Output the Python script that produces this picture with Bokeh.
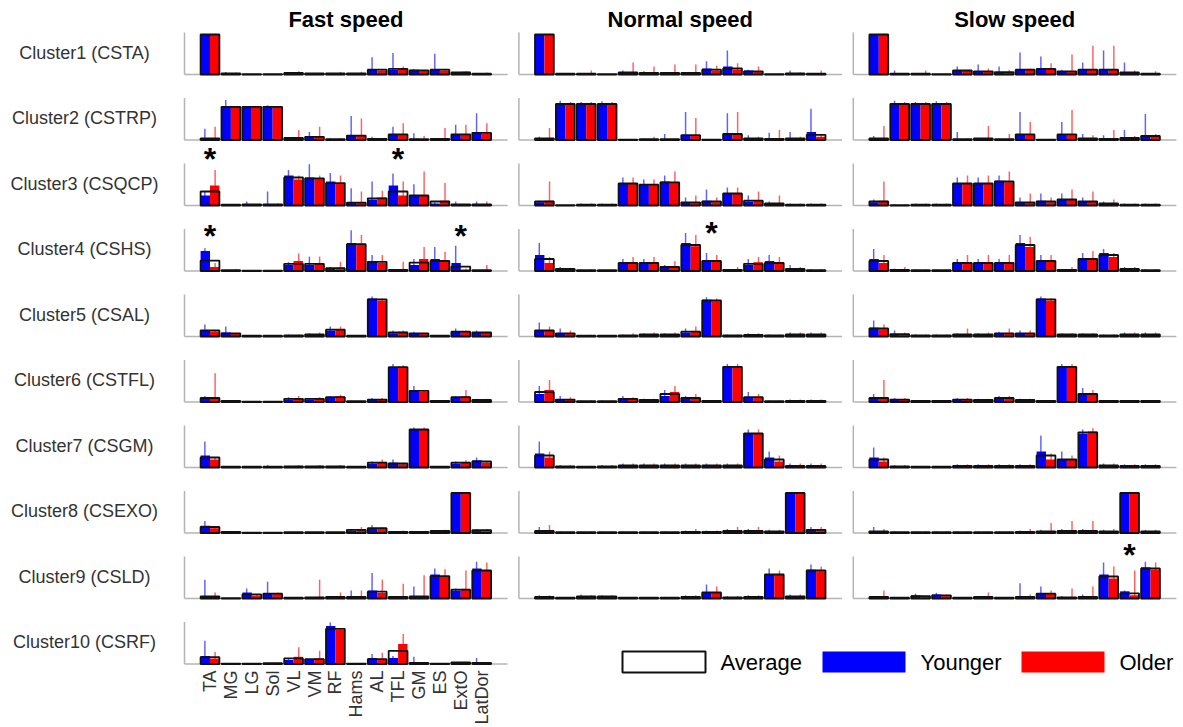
import numpy as np
from bokeh.plotting import figure
from bokeh.models import ColumnDataSource, Range1d, Label
from bokeh.embed import file_html
from bokeh.resources import INLINE
from bokeh.core.properties import value

muscles = ["TA", "MG", "LG", "Sol", "VL", "VM", "RF", "Hams", "AL", "TFL", "GM", "ES", "ExtO", "LatDor"]
speeds = ["Fast speed", "Normal speed", "Slow speed"]
clusters = ["Cluster1 (CSTA)", "Cluster2 (CSTRP)", "Cluster3 (CSQCP)", "Cluster4 (CSHS)",
            "Cluster5 (CSAL)", "Cluster6 (CSTFL)", "Cluster7 (CSGM)", "Cluster8 (CSEXO)",
            "Cluster9 (CSLD)", "Cluster10 (CSRF)"]

# ---------------- FAST ----------------
fast_avg = [
    [1.00, 0.03, 0.01, 0.01, 0.04, 0.03, 0.03, 0.03, 0.12, 0.14, 0.10, 0.12, 0.05, 0.02],
    [0.04, 0.83, 0.83, 0.83, 0.05, 0.08, 0.02, 0.11, 0.03, 0.14, 0.02, 0.03, 0.14, 0.18],
    [0.35, 0.02, 0.03, 0.03, 0.70, 0.68, 0.56, 0.07, 0.18, 0.35, 0.25, 0.10, 0.03, 0.03],
    [0.26, 0.02, 0.01, 0.01, 0.18, 0.18, 0.07, 0.67, 0.23, 0.03, 0.21, 0.25, 0.11, 0.02],
    [0.15, 0.08, 0.02, 0.02, 0.03, 0.05, 0.17, 0.02, 0.93, 0.10, 0.08, 0.02, 0.12, 0.10],
    [0.10, 0.03, 0.01, 0.01, 0.08, 0.08, 0.12, 0.02, 0.06, 0.87, 0.28, 0.03, 0.12, 0.05],
    [0.25, 0.02, 0.02, 0.02, 0.03, 0.03, 0.03, 0.02, 0.12, 0.10, 0.95, 0.02, 0.12, 0.15],
    [0.15, 0.03, 0.01, 0.01, 0.02, 0.02, 0.02, 0.08, 0.12, 0.03, 0.03, 0.05, 1.00, 0.07],
    [0.05, 0.01, 0.10, 0.12, 0.02, 0.03, 0.04, 0.04, 0.17, 0.04, 0.05, 0.56, 0.22, 0.70],
    [0.17, 0.01, 0.01, 0.02, 0.14, 0.12, 0.88, 0.01, 0.12, 0.33, 0.03, 0.01, 0.04, 0.03],
]
fast_young = [
    [1.00, 0.04, 0.01, 0.01, 0.04, 0.03, 0.02, 0.02, 0.12, 0.12, 0.12, 0.12, 0.05, 0.01],
    [0.04, 0.83, 0.83, 0.83, 0.04, 0.08, 0.02, 0.12, 0.04, 0.14, 0.03, 0.02, 0.14, 0.20],
    [0.25, 0.02, 0.04, 0.04, 0.75, 0.70, 0.60, 0.06, 0.15, 0.50, 0.25, 0.05, 0.04, 0.03],
    [0.50, 0.02, 0.01, 0.01, 0.15, 0.15, 0.05, 0.70, 0.25, 0.02, 0.15, 0.30, 0.20, 0.01],
    [0.15, 0.10, 0.02, 0.02, 0.03, 0.04, 0.15, 0.02, 0.95, 0.08, 0.08, 0.02, 0.12, 0.10],
    [0.08, 0.03, 0.01, 0.01, 0.06, 0.06, 0.10, 0.02, 0.05, 0.85, 0.30, 0.03, 0.10, 0.05],
    [0.30, 0.02, 0.02, 0.02, 0.02, 0.02, 0.02, 0.02, 0.10, 0.12, 0.95, 0.02, 0.10, 0.18],
    [0.18, 0.03, 0.01, 0.01, 0.02, 0.02, 0.02, 0.06, 0.12, 0.02, 0.03, 0.04, 1.00, 0.06],
    [0.05, 0.01, 0.15, 0.12, 0.02, 0.02, 0.03, 0.04, 0.20, 0.03, 0.05, 0.60, 0.20, 0.75],
    [0.20, 0.01, 0.01, 0.02, 0.10, 0.10, 0.95, 0.01, 0.15, 0.15, 0.04, 0.01, 0.04, 0.04],
]
fast_old = [
    [1.00, 0.03, 0.01, 0.01, 0.05, 0.03, 0.03, 0.04, 0.10, 0.14, 0.08, 0.10, 0.07, 0.03],
    [0.04, 0.83, 0.83, 0.83, 0.06, 0.08, 0.02, 0.10, 0.02, 0.14, 0.02, 0.04, 0.14, 0.16],
    [0.50, 0.02, 0.02, 0.02, 0.65, 0.68, 0.55, 0.08, 0.20, 0.25, 0.25, 0.12, 0.02, 0.03],
    [0.10, 0.02, 0.01, 0.01, 0.25, 0.20, 0.08, 0.65, 0.20, 0.04, 0.30, 0.25, 0.04, 0.02],
    [0.12, 0.06, 0.02, 0.02, 0.03, 0.06, 0.18, 0.02, 0.90, 0.12, 0.08, 0.02, 0.12, 0.10],
    [0.12, 0.03, 0.01, 0.01, 0.10, 0.10, 0.14, 0.02, 0.07, 0.88, 0.25, 0.03, 0.14, 0.05],
    [0.20, 0.02, 0.02, 0.02, 0.04, 0.04, 0.04, 0.02, 0.14, 0.08, 0.95, 0.02, 0.14, 0.12],
    [0.12, 0.03, 0.01, 0.01, 0.02, 0.02, 0.02, 0.10, 0.12, 0.04, 0.03, 0.06, 1.00, 0.08],
    [0.05, 0.01, 0.06, 0.12, 0.02, 0.04, 0.05, 0.04, 0.14, 0.05, 0.05, 0.55, 0.24, 0.70],
    [0.14, 0.01, 0.01, 0.02, 0.18, 0.14, 0.85, 0.01, 0.10, 0.50, 0.02, 0.01, 0.04, 0.02],
]
fast_ymax = [
    [1.00, 0.06, 0.01, 0.01, 0.05, 0.04, 0.03, 0.03, 0.43, 0.54, 0.14, 0.52, 0.06, 0.02],
    [0.28, 1.00, 0.85, 0.87, 0.06, 0.20, 0.05, 0.60, 0.08, 0.33, 0.17, 0.05, 0.38, 0.67],
    [0.35, 0.03, 0.10, 0.35, 0.89, 1.03, 0.81, 0.43, 0.60, 0.80, 0.53, 0.08, 0.10, 0.10],
    [0.57, 0.03, 0.01, 0.01, 0.22, 0.36, 0.10, 1.02, 0.40, 0.04, 0.30, 0.60, 0.63, 0.02],
    [0.30, 0.25, 0.03, 0.03, 0.05, 0.08, 0.25, 0.03, 1.00, 0.15, 0.12, 0.03, 0.20, 0.15],
    [0.15, 0.05, 0.02, 0.02, 0.12, 0.10, 0.15, 0.03, 0.10, 0.95, 0.40, 0.04, 0.15, 0.08],
    [0.65, 0.04, 0.03, 0.06, 0.04, 0.04, 0.04, 0.03, 0.15, 0.20, 1.00, 0.03, 0.15, 0.25],
    [0.30, 0.05, 0.02, 0.02, 0.03, 0.03, 0.03, 0.10, 0.20, 0.04, 0.05, 0.06, 1.02, 0.10],
    [0.47, 0.01, 0.25, 0.42, 0.02, 0.03, 0.05, 0.20, 0.64, 0.05, 0.30, 0.75, 0.25, 0.92],
    [0.58, 0.02, 0.02, 0.03, 0.15, 0.12, 1.04, 0.02, 0.25, 0.20, 0.18, 0.02, 0.05, 0.15],
]
fast_omax = [
    [1.02, 0.05, 0.01, 0.02, 0.08, 0.04, 0.06, 0.07, 0.12, 0.20, 0.10, 0.12, 0.08, 0.05],
    [0.33, 0.85, 0.84, 0.84, 0.25, 0.33, 0.05, 0.54, 0.04, 0.42, 0.10, 0.30, 0.38, 0.42],
    [0.89, 0.03, 0.03, 0.05, 0.75, 0.75, 0.75, 0.35, 0.37, 0.60, 0.85, 0.56, 0.04, 0.10],
    [0.20, 0.05, 0.02, 0.02, 0.44, 0.36, 0.23, 0.90, 0.40, 0.23, 0.60, 0.48, 0.06, 0.15],
    [0.15, 0.08, 0.03, 0.03, 0.05, 0.10, 0.25, 0.03, 0.95, 0.15, 0.10, 0.03, 0.15, 0.12],
    [0.72, 0.05, 0.02, 0.02, 0.15, 0.12, 0.18, 0.03, 0.10, 0.92, 0.30, 0.04, 0.30, 0.08],
    [0.25, 0.03, 0.03, 0.03, 0.06, 0.06, 0.06, 0.03, 0.20, 0.12, 1.00, 0.03, 0.18, 0.15],
    [0.15, 0.05, 0.02, 0.02, 0.03, 0.03, 0.03, 0.15, 0.15, 0.06, 0.05, 0.08, 1.00, 0.10],
    [0.15, 0.02, 0.10, 0.15, 0.03, 0.47, 0.15, 0.20, 0.47, 0.37, 0.58, 0.73, 0.70, 0.90],
    [0.30, 0.02, 0.02, 0.03, 0.42, 0.33, 0.88, 0.02, 0.28, 0.75, 0.04, 0.02, 0.05, 0.04],
]

# ---------------- NORMAL ----------------
normal_avg = [
    [1.00, 0.02, 0.02, 0.01, 0.05, 0.04, 0.04, 0.04, 0.12, 0.15, 0.08, 0.01, 0.03, 0.02],
    [0.04, 0.90, 0.90, 0.90, 0.01, 0.02, 0.02, 0.12, 0.01, 0.15, 0.04, 0.03, 0.04, 0.13],
    [0.10, 0.01, 0.02, 0.02, 0.55, 0.52, 0.58, 0.08, 0.10, 0.30, 0.12, 0.05, 0.02, 0.02],
    [0.30, 0.05, 0.02, 0.02, 0.20, 0.20, 0.10, 0.65, 0.25, 0.03, 0.18, 0.20, 0.05, 0.02],
    [0.15, 0.08, 0.02, 0.02, 0.03, 0.05, 0.05, 0.12, 0.90, 0.03, 0.04, 0.03, 0.05, 0.05],
    [0.25, 0.06, 0.02, 0.02, 0.08, 0.05, 0.20, 0.10, 0.03, 0.88, 0.12, 0.02, 0.03, 0.03],
    [0.30, 0.03, 0.02, 0.03, 0.05, 0.05, 0.05, 0.05, 0.05, 0.05, 0.85, 0.20, 0.04, 0.04],
    [0.05, 0.02, 0.02, 0.02, 0.02, 0.02, 0.02, 0.03, 0.03, 0.05, 0.05, 0.04, 1.00, 0.08],
    [0.04, 0.02, 0.05, 0.05, 0.02, 0.02, 0.02, 0.04, 0.15, 0.03, 0.04, 0.60, 0.05, 0.70],
]
normal_young = [
    [1.00, 0.03, 0.01, 0.01, 0.06, 0.04, 0.03, 0.03, 0.15, 0.20, 0.10, 0.01, 0.04, 0.01],
    [0.04, 0.90, 0.90, 0.90, 0.01, 0.02, 0.02, 0.12, 0.01, 0.15, 0.04, 0.03, 0.04, 0.20],
    [0.08, 0.01, 0.02, 0.02, 0.55, 0.52, 0.60, 0.08, 0.12, 0.30, 0.10, 0.04, 0.02, 0.02],
    [0.40, 0.05, 0.02, 0.02, 0.18, 0.18, 0.08, 0.70, 0.25, 0.02, 0.15, 0.25, 0.05, 0.02],
    [0.15, 0.08, 0.02, 0.02, 0.03, 0.05, 0.05, 0.10, 0.92, 0.03, 0.04, 0.03, 0.05, 0.05],
    [0.20, 0.06, 0.02, 0.02, 0.08, 0.05, 0.15, 0.10, 0.03, 0.88, 0.12, 0.02, 0.03, 0.03],
    [0.35, 0.03, 0.02, 0.03, 0.05, 0.05, 0.05, 0.05, 0.05, 0.05, 0.85, 0.25, 0.04, 0.04],
    [0.05, 0.02, 0.02, 0.02, 0.02, 0.02, 0.02, 0.03, 0.03, 0.05, 0.05, 0.04, 1.00, 0.08],
    [0.04, 0.02, 0.06, 0.05, 0.02, 0.02, 0.02, 0.04, 0.15, 0.03, 0.04, 0.60, 0.05, 0.72],
]
normal_old = [
    [1.00, 0.02, 0.03, 0.01, 0.05, 0.05, 0.05, 0.05, 0.10, 0.12, 0.07, 0.01, 0.03, 0.03],
    [0.04, 0.90, 0.90, 0.90, 0.01, 0.02, 0.02, 0.12, 0.01, 0.15, 0.04, 0.03, 0.04, 0.08],
    [0.12, 0.01, 0.02, 0.02, 0.55, 0.52, 0.56, 0.08, 0.08, 0.30, 0.14, 0.06, 0.02, 0.02],
    [0.20, 0.05, 0.02, 0.02, 0.22, 0.22, 0.12, 0.62, 0.25, 0.04, 0.22, 0.18, 0.05, 0.02],
    [0.15, 0.08, 0.02, 0.02, 0.03, 0.05, 0.05, 0.14, 0.88, 0.03, 0.04, 0.03, 0.05, 0.05],
    [0.30, 0.06, 0.02, 0.02, 0.08, 0.05, 0.25, 0.10, 0.03, 0.88, 0.12, 0.02, 0.03, 0.03],
    [0.25, 0.03, 0.02, 0.03, 0.05, 0.05, 0.05, 0.05, 0.05, 0.05, 0.85, 0.15, 0.04, 0.04],
    [0.05, 0.02, 0.02, 0.02, 0.02, 0.02, 0.02, 0.03, 0.03, 0.05, 0.05, 0.04, 1.00, 0.08],
    [0.04, 0.02, 0.04, 0.05, 0.02, 0.02, 0.02, 0.04, 0.15, 0.03, 0.04, 0.60, 0.05, 0.68],
]
normal_ymax = [
    [1.00, 0.04, 0.02, 0.01, 0.10, 0.08, 0.05, 0.05, 0.33, 0.60, 0.12, 0.02, 0.10, 0.02],
    [0.08, 0.98, 0.95, 0.97, 0.02, 0.04, 0.15, 0.70, 0.02, 0.67, 0.12, 0.18, 0.20, 0.78],
    [0.12, 0.02, 0.05, 0.05, 0.70, 0.65, 0.75, 0.20, 0.40, 0.45, 0.25, 0.10, 0.05, 0.05],
    [0.70, 0.10, 0.04, 0.03, 0.30, 0.30, 0.15, 0.95, 0.45, 0.05, 0.30, 0.40, 0.15, 0.05],
    [0.35, 0.20, 0.04, 0.04, 0.05, 0.08, 0.08, 0.20, 0.98, 0.05, 0.08, 0.05, 0.10, 0.10],
    [0.40, 0.15, 0.04, 0.04, 0.15, 0.08, 0.30, 0.15, 0.05, 0.95, 0.25, 0.04, 0.06, 0.06],
    [0.65, 0.06, 0.04, 0.06, 0.10, 0.10, 0.10, 0.10, 0.10, 0.10, 0.95, 0.40, 0.10, 0.10],
    [0.15, 0.04, 0.04, 0.04, 0.04, 0.04, 0.04, 0.06, 0.06, 0.10, 0.10, 0.08, 1.02, 0.15],
    [0.08, 0.04, 0.10, 0.08, 0.04, 0.04, 0.04, 0.08, 0.35, 0.06, 0.08, 0.75, 0.10, 0.85],
]
normal_omax = [
    [1.02, 0.03, 0.10, 0.02, 0.30, 0.20, 0.25, 0.25, 0.22, 0.28, 0.20, 0.02, 0.05, 0.10],
    [0.30, 0.95, 0.95, 0.95, 0.02, 0.08, 0.04, 0.55, 0.02, 0.70, 0.08, 0.25, 0.08, 0.15],
    [0.60, 0.02, 0.05, 0.05, 0.70, 0.65, 0.85, 0.25, 0.20, 0.45, 0.35, 0.25, 0.05, 0.05],
    [0.35, 0.08, 0.04, 0.03, 0.35, 0.35, 0.25, 0.90, 0.40, 0.10, 0.35, 0.35, 0.10, 0.05],
    [0.25, 0.15, 0.04, 0.04, 0.08, 0.10, 0.10, 0.25, 0.95, 0.05, 0.08, 0.05, 0.10, 0.10],
    [0.55, 0.12, 0.04, 0.04, 0.12, 0.08, 0.40, 0.20, 0.05, 0.95, 0.20, 0.04, 0.06, 0.06],
    [0.40, 0.06, 0.04, 0.06, 0.10, 0.10, 0.10, 0.10, 0.10, 0.10, 0.95, 0.30, 0.10, 0.10],
    [0.20, 0.04, 0.04, 0.04, 0.04, 0.04, 0.04, 0.10, 0.06, 0.15, 0.15, 0.08, 1.00, 0.15],
    [0.08, 0.04, 0.08, 0.08, 0.04, 0.04, 0.04, 0.08, 0.30, 0.06, 0.08, 0.70, 0.10, 0.80],
]

# ---------------- SLOW ----------------
slow_avg = [
    [1.00, 0.02, 0.02, 0.01, 0.10, 0.08, 0.06, 0.12, 0.14, 0.08, 0.12, 0.12, 0.05, 0.02],
    [0.04, 0.90, 0.90, 0.90, 0.02, 0.04, 0.02, 0.14, 0.01, 0.14, 0.04, 0.03, 0.05, 0.10],
    [0.10, 0.01, 0.02, 0.02, 0.55, 0.55, 0.60, 0.08, 0.10, 0.15, 0.10, 0.05, 0.02, 0.02],
    [0.25, 0.03, 0.02, 0.02, 0.20, 0.20, 0.20, 0.65, 0.25, 0.03, 0.30, 0.40, 0.05, 0.02],
    [0.20, 0.06, 0.03, 0.03, 0.05, 0.05, 0.08, 0.08, 0.93, 0.05, 0.05, 0.03, 0.05, 0.05],
    [0.10, 0.06, 0.03, 0.03, 0.06, 0.05, 0.10, 0.05, 0.03, 0.88, 0.20, 0.03, 0.03, 0.03],
    [0.20, 0.03, 0.02, 0.02, 0.04, 0.04, 0.04, 0.04, 0.30, 0.20, 0.88, 0.05, 0.04, 0.04],
    [0.04, 0.02, 0.02, 0.02, 0.02, 0.02, 0.02, 0.03, 0.04, 0.05, 0.05, 0.04, 1.00, 0.04],
    [0.04, 0.02, 0.06, 0.08, 0.02, 0.04, 0.02, 0.04, 0.12, 0.03, 0.04, 0.55, 0.13, 0.75],
]
slow_young = [
    [1.00, 0.02, 0.02, 0.01, 0.10, 0.08, 0.06, 0.12, 0.14, 0.08, 0.12, 0.12, 0.05, 0.02],
    [0.04, 0.90, 0.90, 0.90, 0.02, 0.04, 0.02, 0.14, 0.01, 0.14, 0.04, 0.03, 0.05, 0.10],
    [0.08, 0.01, 0.02, 0.02, 0.55, 0.55, 0.62, 0.08, 0.12, 0.15, 0.10, 0.05, 0.02, 0.02],
    [0.30, 0.03, 0.02, 0.02, 0.18, 0.18, 0.18, 0.70, 0.25, 0.03, 0.28, 0.45, 0.05, 0.02],
    [0.22, 0.06, 0.03, 0.03, 0.05, 0.05, 0.08, 0.08, 0.95, 0.05, 0.05, 0.03, 0.05, 0.05],
    [0.10, 0.06, 0.03, 0.03, 0.06, 0.05, 0.10, 0.05, 0.03, 0.88, 0.22, 0.03, 0.03, 0.03],
    [0.25, 0.03, 0.02, 0.02, 0.04, 0.04, 0.04, 0.04, 0.40, 0.20, 0.85, 0.05, 0.04, 0.04],
    [0.04, 0.02, 0.02, 0.02, 0.02, 0.02, 0.02, 0.03, 0.04, 0.05, 0.05, 0.04, 1.00, 0.04],
    [0.04, 0.02, 0.08, 0.10, 0.02, 0.03, 0.02, 0.04, 0.12, 0.03, 0.04, 0.60, 0.18, 0.78],
]
slow_old = [
    [1.00, 0.02, 0.02, 0.01, 0.10, 0.08, 0.06, 0.12, 0.14, 0.08, 0.12, 0.12, 0.05, 0.02],
    [0.04, 0.90, 0.90, 0.90, 0.02, 0.04, 0.02, 0.14, 0.01, 0.14, 0.04, 0.03, 0.05, 0.10],
    [0.12, 0.01, 0.02, 0.02, 0.55, 0.55, 0.58, 0.08, 0.08, 0.15, 0.10, 0.05, 0.02, 0.02],
    [0.20, 0.03, 0.02, 0.02, 0.22, 0.22, 0.22, 0.60, 0.25, 0.03, 0.32, 0.35, 0.05, 0.02],
    [0.18, 0.06, 0.03, 0.03, 0.05, 0.05, 0.08, 0.08, 0.90, 0.05, 0.05, 0.03, 0.05, 0.05],
    [0.10, 0.06, 0.03, 0.03, 0.06, 0.05, 0.10, 0.05, 0.03, 0.88, 0.18, 0.03, 0.03, 0.03],
    [0.15, 0.03, 0.02, 0.02, 0.04, 0.04, 0.04, 0.04, 0.20, 0.20, 0.90, 0.05, 0.04, 0.04],
    [0.04, 0.02, 0.02, 0.02, 0.02, 0.02, 0.02, 0.03, 0.04, 0.05, 0.05, 0.04, 1.00, 0.04],
    [0.04, 0.02, 0.04, 0.06, 0.02, 0.05, 0.02, 0.04, 0.12, 0.03, 0.04, 0.50, 0.08, 0.72],
]
slow_ymax = [
    [1.00, 0.10, 0.02, 0.01, 0.20, 0.25, 0.20, 0.55, 0.45, 0.12, 0.30, 0.60, 0.30, 0.03],
    [0.10, 0.98, 0.95, 0.97, 0.20, 0.05, 0.04, 0.70, 0.02, 0.45, 0.15, 0.12, 0.25, 0.65],
    [0.15, 0.03, 0.05, 0.05, 0.70, 0.70, 0.75, 0.20, 0.30, 0.30, 0.20, 0.10, 0.05, 0.05],
    [0.55, 0.06, 0.04, 0.04, 0.30, 0.30, 0.30, 0.90, 0.40, 0.05, 0.45, 0.55, 0.10, 0.05],
    [0.40, 0.15, 0.05, 0.05, 0.08, 0.08, 0.12, 0.15, 1.00, 0.08, 0.08, 0.05, 0.10, 0.10],
    [0.20, 0.10, 0.05, 0.05, 0.10, 0.08, 0.15, 0.08, 0.05, 0.95, 0.35, 0.05, 0.05, 0.05],
    [0.50, 0.06, 0.04, 0.04, 0.08, 0.08, 0.08, 0.08, 0.80, 0.40, 0.95, 0.10, 0.08, 0.08],
    [0.15, 0.04, 0.04, 0.04, 0.04, 0.04, 0.04, 0.06, 0.08, 0.10, 0.10, 0.08, 1.02, 0.08],
    [0.06, 0.03, 0.12, 0.14, 0.03, 0.05, 0.03, 0.38, 0.30, 0.06, 0.10, 0.90, 0.20, 0.92],
]
slow_omax = [
    [1.02, 0.03, 0.10, 0.02, 0.12, 0.15, 0.12, 0.15, 0.28, 0.50, 0.72, 0.72, 0.10, 0.08],
    [0.35, 0.95, 0.95, 0.95, 0.04, 0.35, 0.15, 0.45, 0.02, 0.75, 0.12, 0.25, 0.10, 0.15],
    [0.60, 0.03, 0.05, 0.05, 0.75, 0.75, 0.85, 0.30, 0.20, 0.40, 0.35, 0.15, 0.05, 0.05],
    [0.40, 0.10, 0.04, 0.04, 0.40, 0.40, 0.40, 0.85, 0.40, 0.10, 0.50, 0.45, 0.10, 0.05],
    [0.30, 0.10, 0.05, 0.05, 0.20, 0.10, 0.20, 0.15, 0.95, 0.08, 0.08, 0.05, 0.10, 0.10],
    [0.55, 0.10, 0.05, 0.05, 0.10, 0.08, 0.15, 0.08, 0.05, 0.95, 0.30, 0.05, 0.05, 0.05],
    [0.25, 0.06, 0.04, 0.04, 0.08, 0.08, 0.08, 0.08, 0.35, 0.30, 0.98, 0.10, 0.08, 0.08],
    [0.10, 0.04, 0.04, 0.04, 0.04, 0.04, 0.04, 0.10, 0.25, 0.30, 0.30, 0.10, 1.00, 0.08],
    [0.20, 0.03, 0.06, 0.10, 0.03, 0.15, 0.03, 0.10, 0.20, 0.25, 0.30, 0.80, 0.70, 0.90],
]

# significance stars: (speed index, cluster index, muscle index, height)
star_speed = [0, 0, 0, 0, 1, 2]
star_cluster = [2, 2, 3, 3, 3, 8]
star_muscle = [0, 9, 0, 12, 8, 12]
star_level = [1.22, 1.22, 0.93, 0.93, 1.00, 1.15]

avg_sets = [fast_avg, normal_avg, slow_avg]
young_sets = [fast_young, normal_young, slow_young]
old_sets = [fast_old, normal_old, slow_old]
ymax_sets = [fast_ymax, normal_ymax, slow_ymax]
omax_sets = [fast_omax, normal_omax, slow_omax]

# ---------------- layout ----------------
W, H = 1183, 727
PX_X = 20.9          # pixels per muscle slot
PX_Y = 40.0          # pixels per unit of activation
COL = 16             # slots between speed columns
ROW = 65.5 / PX_Y    # units between cluster rows
X0 = 1 - 209.5 / PX_X
X1 = X0 + W / PX_X
Y1 = 74 / PX_Y
Y0 = Y1 - H / PX_Y


def xpx(px):
    return X0 + px / PX_X


def ypx(py):
    return Y1 - py / PX_Y


p = figure(width=W, height=H, x_range=Range1d(X0, X1), y_range=Range1d(Y0, Y1),
           output_backend="svg", toolbar_location=None, x_axis_type=None, y_axis_type=None,
           min_border=0, min_border_left=0, min_border_right=0, min_border_top=0,
           min_border_bottom=0)
p.grid.visible = False
p.outline_line_color = None
p.background_fill_color = "white"

yb = dict(l=[], r=[], b=[], t=[])
rb = dict(l=[], r=[], b=[], t=[])
ys = dict(l=[], r=[], b=[], t=[])
rs = dict(l=[], r=[], b=[], t=[])
bx = dict(l=[], r=[], b=[], t=[])
ax = dict(x0=[], y0=[], x1=[], y1=[])

HALF = 0.45
for s in range(3):
    for c in range(len(avg_sets[s])):
        base = -c * ROW
        xo = s * COL
        ax["x0"] += [xo - 0.22, xo - 0.22]
        ax["y0"] += [base, base]
        ax["x1"] += [xo - 0.22, xo + 15.24]
        ax["y1"] += [base + 1.05, base]
        for i in range(14):
            x = xo + i + 1
            yb["l"].append(x - HALF); yb["r"].append(x); yb["b"].append(base)
            yb["t"].append(base + young_sets[s][c][i])
            rb["l"].append(x); rb["r"].append(x + HALF); rb["b"].append(base)
            rb["t"].append(base + old_sets[s][c][i])
            ys["l"].append(x - 0.28); ys["r"].append(x - 0.21); ys["b"].append(base)
            ys["t"].append(base + ymax_sets[s][c][i])
            rs["l"].append(x + 0.21); rs["r"].append(x + 0.28); rs["b"].append(base)
            rs["t"].append(base + omax_sets[s][c][i])
            bx["l"].append(x - HALF); bx["r"].append(x + HALF); bx["b"].append(base)
            bx["t"].append(base + avg_sets[s][c][i])

p.segment(x0="x0", y0="y0", x1="x1", y1="y1", source=ColumnDataSource(ax),
          line_color="#b4b4b4", line_width=1.5)
p.quad(left="l", right="r", bottom="b", top="t", source=ColumnDataSource(ys),
       fill_color="#3a3aff", line_color=None, fill_alpha=0.8)
p.quad(left="l", right="r", bottom="b", top="t", source=ColumnDataSource(rs),
       fill_color="#ff3a3a", line_color=None, fill_alpha=0.8)
p.quad(left="l", right="r", bottom="b", top="t", source=ColumnDataSource(yb),
       fill_color="#0000ff", line_color=None)
p.quad(left="l", right="r", bottom="b", top="t", source=ColumnDataSource(rb),
       fill_color="#ff0000", line_color=None)
p.quad(left="l", right="r", bottom="b", top="t", source=ColumnDataSource(bx),
       fill_color=None, line_color="#111111", line_width=1.8)

# cluster labels
lab = dict(x=[], y=[], t=[])
for c, name in enumerate(clusters):
    lab["x"].append(xpx(84)); lab["y"].append(-c * ROW + 0.55); lab["t"].append(name)
p.text(x="x", y="y", text="t", source=ColumnDataSource(lab), text_font=value("Liberation Sans"),
       text_font_size="18px", text_color="#333333", text_align="center", text_baseline="middle")

# titles
tt = dict(x=[s * COL + 7.5 for s in range(3)], y=[ypx(19)] * 3, t=speeds)
p.text(x="x", y="y", text="t", source=ColumnDataSource(tt), text_font=value("Liberation Sans"),
       text_font_size="22px", text_font_style="bold", text_color="black",
       text_align="center", text_baseline="middle")

# muscle tick labels under the last Fast panel
last = len(fast_avg) - 1
tk = dict(x=[i + 1 for i in range(14)], y=[-last * ROW - 0.16] * 14, t=muscles)
p.text(x="x", y="y", text="t", source=ColumnDataSource(tk), text_font=value("Liberation Sans"),
       text_font_size="18px", text_color="#333333", text_align="right", text_baseline="middle",
       angle=np.pi / 2)

# stars
st = dict(x=[star_speed[k] * COL + star_muscle[k] + 1 for k in range(len(star_speed))],
          y=[-star_cluster[k] * ROW + star_level[k] for k in range(len(star_speed))],
          t=["*"] * len(star_speed))
p.text(x="x", y="y", text="t", source=ColumnDataSource(st), text_font=value("Liberation Sans"),
       text_font_size="32px", text_font_style="bold", text_color="black", text_align="center",
       text_baseline="alphabetic", y_offset=2)

# legend
legend_labels = ["Average", "Younger", "Older"]
legend_fill = [None, "#0000ff", "#ff0000"]
legend_line = ["#111111", None, None]
leg_left = [622, 822, 1021]
for k in range(3):
    p.quad(left=xpx(leg_left[k]), right=xpx(leg_left[k] + 83), bottom=ypx(672), top=ypx(651),
           fill_color=legend_fill[k], line_color=legend_line[k], line_width=2)
    p.add_layout(Label(x=xpx(leg_left[k] + 98), y=ypx(662), text=legend_labels[k],
                       text_font="Liberation Sans", text_font_size="22px", text_color="black",
                       text_baseline="middle", text_align="left"))

open("out.html", "w").write(file_html(p, INLINE))
